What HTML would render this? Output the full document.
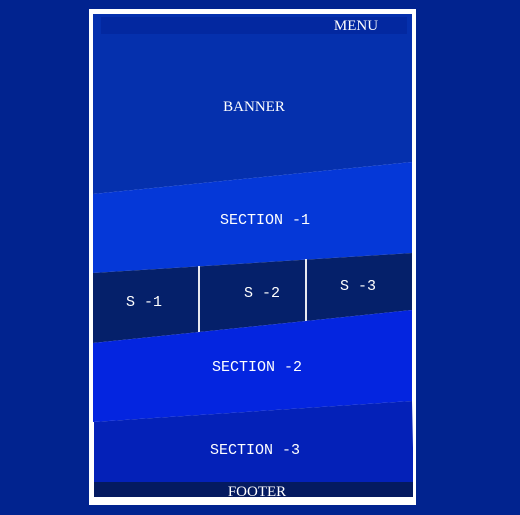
<!DOCTYPE html>
<html><head><meta charset="utf-8"><style>
html,body{margin:0;padding:0;background:#01238f;width:520px;height:515px;overflow:hidden}
svg{display:block}
text{fill:#fff;font-family:"Liberation Mono",monospace;font-size:15px;text-anchor:middle}
.s{font-family:"Liberation Serif",serif;font-size:15px}
</style></head><body>
<svg width="520" height="515">
<rect x="0" y="0" width="520" height="515" fill="#01238f"/>
<rect x="89" y="9" width="327" height="496" fill="#ffffff"/>
<polygon points="93,14 412,14 412,162 93,194" fill="#0530ad"/>
<rect x="101" y="17" width="306" height="17" fill="#0328a0"/>
<text x="356" y="30" class="s">MENU</text>
<text x="254" y="111" class="s">BANNER</text>
<polygon points="93,194 412,162 412,253 93,273" fill="#0538d8"/>
<text x="265" y="224">SECTION -1</text>
<polygon points="93,273 412,253 412,310 93,343" fill="#05206a"/>
<line x1="199" y1="266" x2="199" y2="332" stroke="#e8e8f0" stroke-width="2"/>
<line x1="306" y1="259" x2="306" y2="322" stroke="#e8e8f0" stroke-width="2"/>
<text x="144" y="306">S -1</text>
<text x="262" y="297">S -2</text>
<text x="358" y="290">S -3</text>
<polygon points="93,343 412,310 412,401 93,422" fill="#0425e0"/>
<text x="257" y="371">SECTION -2</text>
<polygon points="93,422 412,401 413,448 413,482 94,482 94,422" fill="#0421b8"/>
<text x="255" y="454">SECTION -3</text>
<rect x="94" y="482" width="319" height="15" fill="#041a60"/>
<text x="257" y="496" class="s">FOOTER</text>
</svg>
</body></html>
